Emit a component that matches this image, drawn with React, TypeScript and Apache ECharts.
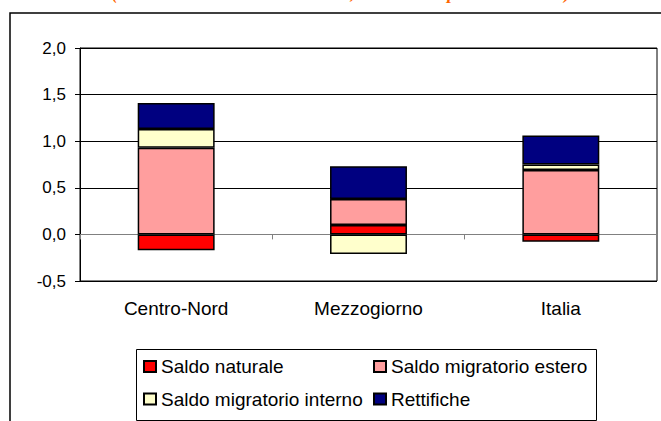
import React, { useEffect, useRef } from "react";
import * as echarts from "echarts";

const categories = ["Centro-Nord", "Mezzogiorno", "Italia"];
const saldoNaturale = [-0.17, 0.1, -0.08];
const saldoMigratorioEstero = [0.93, 0.28, 0.69];
const saldoMigratorioInterno = [0.2, -0.21, 0.06];
const rettifiche = [0.28, 0.35, 0.31];
const seriesNames = [
  "Saldo naturale",
  "Saldo migratorio estero",
  "Saldo migratorio interno",
  "Rettifiche",
];
const seriesColors = ["#FF0000", "#FF9E9E", "#FFFFCC", "#000080"];
const titleText = "(contributi alla variazione totale, valori medi per 100 abitanti)";

const FONT = "'Liberation Sans', Arial, sans-serif";

export default function App() {
  const ref = useRef<HTMLDivElement>(null);
  useEffect(() => {
    if (!ref.current) return;
    const chart = echarts.init(ref.current, undefined, { renderer: "svg" });
    const values = [saldoNaturale, saldoMigratorioEstero, saldoMigratorioInterno, rettifiche];
    const legendPos = [
      { left: 143, top: 357 },
      { left: 373, top: 357 },
      { left: 143, top: 389.5 },
      { left: 373, top: 389.5 },
    ];
    chart.setOption({
      animation: false,
      backgroundColor: "#fff",
      grid: {
        left: 80,
        right: 4,
        top: 48,
        bottom: 140,
        show: true,
        borderColor: "#000",
        borderWidth: 1,
      },
      xAxis: {
        type: "category",
        data: categories,
        axisLine: { onZero: true, lineStyle: { color: "#808080", width: 1 } },
        axisTick: { show: true, length: 5, lineStyle: { color: "#808080" } },
        axisLabel: { margin: 18, fontSize: 19, color: "#000", fontFamily: FONT },
        splitLine: { show: false },
      },
      yAxis: {
        type: "value",
        min: -0.5,
        max: 2,
        interval: 0.5,
        axisLine: { show: true, lineStyle: { color: "#000", width: 1 } },
        axisTick: { show: true, length: 5, lineStyle: { color: "#000" } },
        axisLabel: {
          margin: 14,
          fontSize: 17,
          color: "#000",
          fontFamily: FONT,
          formatter: (v: number) => v.toFixed(1).replace(".", ","),
        },
        splitLine: { show: true, lineStyle: { color: "#000", width: 1 } },
      },
      legend: seriesNames.map((name, i) => ({
        data: [name],
        left: legendPos[i].left,
        top: legendPos[i].top,
        padding: 0,
        itemWidth: 12,
        itemHeight: 11,
        icon: "rect",
        selectedMode: false,
        textStyle: { fontSize: 19, color: "#000", fontFamily: FONT },
      })),
      graphic: [
        {
          type: "rect",
          shape: { x: 10, y: 13, width: 700, height: 450 },
          style: { fill: "transparent", stroke: "#000", lineWidth: 1.5 },
          silent: true,
        },
        {
          type: "rect",
          shape: { x: 136.5, y: 349.5, width: 460, height: 71 },
          style: { fill: "transparent", stroke: "#000", lineWidth: 1 },
          silent: true,
        },
        {
          type: "text",
          x: 341,
          y: -7,
          style: {
            text: titleText,
            fill: "#FF6600",
            font: "italic bold 18px 'Liberation Serif', 'Times New Roman', serif",
            textAlign: "center",
            textVerticalAlign: "middle",
          },
          silent: true,
        },
      ],
      series: seriesNames.map((name, i) => ({
        name,
        type: "bar",
        stack: "total",
        barWidth: "40%",
        data: values[i],
        itemStyle: { color: seriesColors[i], borderColor: "#000", borderWidth: 1.5 },
      })),
    });
    return () => chart.dispose();
  }, []);
  return (
    <div
      ref={ref}
      style={{ position: "absolute", left: 0, top: 0, width: 661, height: 421 }}
    />
  );
}
